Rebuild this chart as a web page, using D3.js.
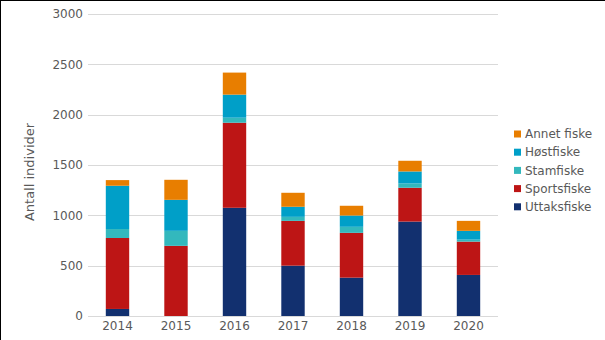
<!DOCTYPE html>
<html><head><meta charset="utf-8">
<script src="https://cdn.jsdelivr.net/npm/d3@7"></script>
<style>
html,body{margin:0;padding:0;background:#fff;}
svg{display:block;font-family:"DejaVu Sans",sans-serif;}
</style></head>
<body><svg id="c" width="605" height="340"></svg>
<script>
const years = ["2014","2015","2016","2017","2018","2019","2020"];
const seriesNames = ["Uttaksfiske","Sportsfiske","Stamfiske","Høstfiske","Annet fiske"];
const uttaksfiske = [70, 0, 1075, 500, 381, 938, 408];
const sportsfiske = [705, 697, 845, 445, 445, 336, 331];
const stamfiske = [89, 149, 50, 40, 60, 43, 20];
const hostfiske = [430, 308, 229, 100, 112, 119, 87];
const annetFiske = [56, 199, 219, 139, 97, 106, 99];
const yTicks = [0, 500, 1000, 1500, 2000, 2500, 3000];
const colors = ["#12306f", "#bd1515", "#33b8bd", "#009fc8", "#e87e00"];

const seriesValues = [uttaksfiske, sportsfiske, stamfiske, hostfiske, annetFiske];
const table = years.map((y, i) => {
  const row = {year: y};
  seriesNames.forEach((s, j) => row[s] = seriesValues[j][i]);
  return row;
});
const stack = d3.stack().keys(seriesNames)(table);

const svg = d3.select("#c");
svg.append("rect").attr("width",605).attr("height",340).attr("fill","#fff");
svg.append("line").attr("x1",0).attr("x2",605).attr("y1",0.5).attr("y2",0.5).attr("stroke","#000");
svg.append("line").attr("x1",0.5).attr("x2",0.5).attr("y1",0).attr("y2",340).attr("stroke","#000");

const x = d3.scaleBand().domain(years).range([88.25, 497.75]).paddingInner(0.6).paddingOuter(0.3);
const y = d3.scaleLinear().domain([0, 3000]).range([316, 14]);

const g = svg.append("g");
g.selectAll("line.grid").data(yTicks).enter().append("line")
  .attr("x1", 88).attr("x2", 498)
  .attr("y1", d => Math.round(y(d)) + 0.5).attr("y2", d => Math.round(y(d)) + 0.5)
  .attr("stroke", "#d9d9d9").attr("stroke-width", 1);

const yAxis = svg.append("g").attr("transform","translate(88,0)")
  .call(d3.axisLeft(y).tickValues(yTicks).tickSize(0).tickPadding(5).tickFormat(d3.format("d")));
yAxis.select(".domain").remove();
yAxis.selectAll("text").attr("fill","#595959").style("font-size","12px").attr("font-family","DejaVu Sans");

svg.append("g").selectAll("g").data(stack).enter().append("g")
  .attr("fill", (d,i) => colors[i])
  .selectAll("rect").data(d => d).enter().append("rect")
  .attr("x", d => x(d.data.year))
  .attr("width", x.bandwidth())
  .attr("y", d => y(d[1]))
  .attr("height", d => y(d[0]) - y(d[1]));

const xAxis = svg.append("g").attr("transform","translate(0,316)")
  .call(d3.axisBottom(x).tickSize(0).tickPadding(5));
xAxis.select(".domain").remove();
xAxis.selectAll("text").attr("fill","#595959").style("font-size","12px").attr("font-family","DejaVu Sans");

svg.append("text").attr("transform","translate(34,172) rotate(-90)")
  .attr("text-anchor","middle").attr("fill","#595959").style("font-size","13px")
  .text("Antall individer");

const legendOrder = seriesNames.map((s,i)=>i).reverse();
const lg = svg.append("g");
legendOrder.forEach((si, k) => {
  const yy = 134 + k * 18.2;
  lg.append("rect").attr("x", 514).attr("y", yy - 3.5).attr("width", 7).attr("height", 7).attr("fill", colors[si]);
  lg.append("text").attr("x", 525).attr("y", yy).attr("dy","0.35em")
    .attr("fill","#595959").style("font-size","12px").text(seriesNames[si]);
});
</script></body></html>
